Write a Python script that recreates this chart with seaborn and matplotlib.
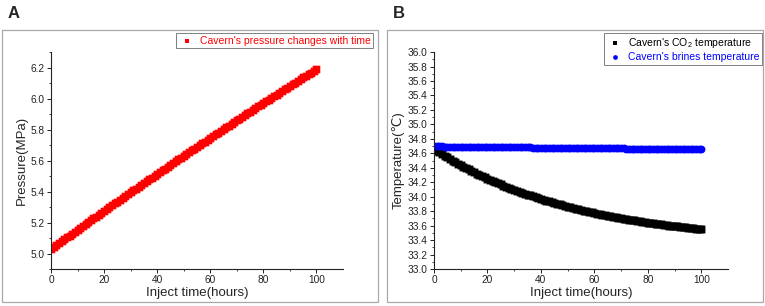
import matplotlib
matplotlib.use("Agg")
import matplotlib.pyplot as plt
from matplotlib.patches import Rectangle
from matplotlib.ticker import MultipleLocator, FixedLocator, FormatStrFormatter
import seaborn as sns
import pandas as pd

# Inject time (hours), one reading per hour
hours = list(range(0, 101))

# Panel A: cavern pressure (MPa)
pressure = [
    5.030, 5.042, 5.055, 5.067, 5.079, 5.092, 5.104, 5.116, 5.129, 5.141,
    5.153, 5.165, 5.178, 5.190, 5.202, 5.214, 5.226, 5.238, 5.251, 5.263,
    5.275, 5.287, 5.299, 5.311, 5.323, 5.335, 5.347, 5.359, 5.371, 5.383,
    5.395, 5.407, 5.419, 5.430, 5.442, 5.454, 5.466, 5.478, 5.490, 5.501,
    5.513, 5.525, 5.537, 5.548, 5.560, 5.572, 5.583, 5.595, 5.607, 5.618,
    5.630, 5.642, 5.653, 5.665, 5.676, 5.688, 5.699, 5.711, 5.722, 5.734,
    5.745, 5.757, 5.768, 5.779, 5.791, 5.802, 5.814, 5.825, 5.836, 5.848,
    5.859, 5.870, 5.881, 5.893, 5.904, 5.915, 5.926, 5.937, 5.949, 5.960,
    5.971, 5.982, 5.993, 6.004, 6.015, 6.026, 6.037, 6.048, 6.059, 6.070,
    6.081, 6.092, 6.103, 6.114, 6.125, 6.136, 6.147, 6.158, 6.168, 6.179,
    6.190,
]

# Panel B: CO2 temperature (C)
co2_temp = [
    34.660, 34.636, 34.612, 34.588, 34.565, 34.543, 34.521, 34.499, 34.477, 34.456,
    34.436, 34.416, 34.396, 34.376, 34.357, 34.339, 34.320, 34.302, 34.285, 34.267,
    34.250, 34.233, 34.217, 34.201, 34.185, 34.170, 34.154, 34.139, 34.125, 34.110,
    34.096, 34.082, 34.069, 34.055, 34.042, 34.029, 34.017, 34.004, 33.992, 33.980,
    33.968, 33.957, 33.946, 33.935, 33.924, 33.913, 33.903, 33.892, 33.882, 33.872,
    33.863, 33.853, 33.844, 33.835, 33.826, 33.817, 33.808, 33.800, 33.791, 33.783,
    33.775, 33.767, 33.759, 33.752, 33.744, 33.737, 33.730, 33.723, 33.716, 33.709,
    33.702, 33.696, 33.689, 33.683, 33.677, 33.671, 33.665, 33.659, 33.653, 33.648,
    33.642, 33.637, 33.631, 33.626, 33.621, 33.616, 33.611, 33.606, 33.601, 33.597,
    33.592, 33.588, 33.583, 33.579, 33.575, 33.570, 33.566, 33.562, 33.558, 33.554,
    33.551,
]

# Panel B: brines temperature (C)
brine_temp = [
    34.695, 34.695, 34.694, 34.694, 34.693, 34.693, 34.693, 34.692, 34.692, 34.691,
    34.691, 34.691, 34.690, 34.690, 34.689, 34.689, 34.689, 34.688, 34.688, 34.687,
    34.687, 34.687, 34.686, 34.686, 34.685, 34.685, 34.685, 34.684, 34.684, 34.683,
    34.683, 34.683, 34.682, 34.682, 34.681, 34.681, 34.681, 34.680, 34.680, 34.679,
    34.679, 34.679, 34.678, 34.678, 34.677, 34.677, 34.677, 34.676, 34.676, 34.675,
    34.675, 34.675, 34.674, 34.674, 34.673, 34.673, 34.673, 34.672, 34.672, 34.671,
    34.671, 34.671, 34.670, 34.670, 34.669, 34.669, 34.669, 34.668, 34.668, 34.667,
    34.667, 34.667, 34.666, 34.666, 34.665, 34.665, 34.665, 34.664, 34.664, 34.663,
    34.663, 34.663, 34.662, 34.662, 34.661, 34.661, 34.661, 34.660, 34.660, 34.659,
    34.659, 34.659, 34.658, 34.658, 34.657, 34.657, 34.657, 34.656, 34.656, 34.655,
    34.655,
]

sns.set_theme(style="ticks")
plt.rcParams["font.family"] = ["Liberation Sans", "DejaVu Sans"]
plt.rcParams["mathtext.default"] = "regular"

df = pd.DataFrame({"hours": hours, "pressure": pressure,
                   "co2": co2_temp, "brine": brine_temp})

fig = plt.figure(figsize=(7.65, 3.06), dpi=100)
ax_a = fig.add_axes([0.0667, 0.1209, 0.3817, 0.709])
ax_b = fig.add_axes([0.5673, 0.1209, 0.3843, 0.709])

# gray boxes round each panel
for x0 in (0.0026, 0.5059):
    fig.add_artist(Rectangle((x0, 0.013), 0.4915, 0.889, transform=fig.transFigure,
                             fill=False, ec="#a8a8a8", lw=0.9))
fig.text(8 / 765, 1 - 14 / 306, "A", fontsize=12, fontweight="bold", va="center")
fig.text(393 / 765, 1 - 14 / 306, "B", fontsize=12, fontweight="bold", va="center")

sns.scatterplot(data=df, x="hours", y="pressure", ax=ax_a, marker="s", s=30,
                color="#ff0000", linewidth=0, label="Cavern's pressure changes with time",
                legend=False)
sns.scatterplot(data=df, x="hours", y="co2", ax=ax_b, marker="s", s=32,
                color="black", linewidth=0, label="Cavern's CO$_2$ temperature",
                legend=False)
sns.scatterplot(data=df, x="hours", y="brine", ax=ax_b, marker="o", s=32,
                color="#0000ff", linewidth=0, label="Cavern's brines temperature",
                legend=False)

# avoid pixel-snapping steps in the dense marker bands
for ax in (ax_a, ax_b):
    for coll in ax.collections:
        coll.set_snap(False)


def style_axis(ax, ylim):
    ax.set_xlim(0, 110)
    ax.set_ylim(*ylim)
    ax.xaxis.set_major_locator(FixedLocator([0, 20, 40, 60, 80, 100]))
    ax.xaxis.set_minor_locator(FixedLocator([10, 30, 50, 70, 90]))
    ax.yaxis.set_minor_locator(MultipleLocator(0.1))
    ax.yaxis.set_major_formatter(FormatStrFormatter("%.1f"))
    sns.despine(ax=ax)
    for side in ("left", "bottom"):
        ax.spines[side].set_linewidth(0.8)
        ax.spines[side].set_color("#222222")
    ax.tick_params(which="major", length=3, width=0.7, labelsize=7.3, pad=1.5,
                   direction="out", colors="#222222")
    ax.tick_params(which="minor", length=1.6, width=0.6, direction="out",
                   colors="#222222")
    ax.set_xlabel("Inject time(hours)", fontsize=9.5, labelpad=1)


style_axis(ax_a, (4.9, 6.3))
ax_a.set_yticks([5.0, 5.2, 5.4, 5.6, 5.8, 6.0, 6.2])
ax_a.set_ylabel("Pressure(MPa)", fontsize=9.5, labelpad=2)

style_axis(ax_b, (33.0, 36.0))
ax_b.yaxis.set_major_locator(MultipleLocator(0.2))
ax_b.set_ylabel("Temperature(\u2103)", fontsize=9.5, labelpad=2)


def add_legend(ax, anchor, colors):
    leg = ax.legend(loc="upper right", bbox_to_anchor=anchor,
                    bbox_transform=fig.transFigure, fontsize=7.5, frameon=True,
                    fancybox=False, edgecolor="#808080", framealpha=1,
                    borderpad=0.25, handletextpad=0.4, handlelength=1.6,
                    labelspacing=0.25, markerscale=0.6, borderaxespad=0)
    leg.get_frame().set_linewidth(0.7)
    for t, c in zip(leg.get_texts(), colors):
        t.set_color(c)


add_legend(ax_a, (373 / 765, 1 - 33 / 306), ["#ff0000"])
add_legend(ax_b, (762 / 765, 1 - 33 / 306), ["black", "#0000ff"])

fig.savefig("out.png", dpi=100)
